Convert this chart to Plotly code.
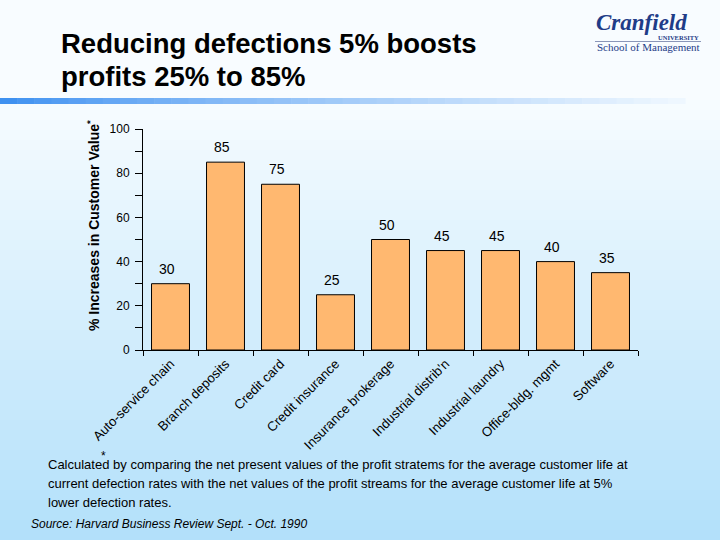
import plotly.graph_objects as go

categories = ["Auto-service chain", "Branch deposits", "Credit card", "Credit insurance",
              "Insurance brokerage", "Industrial distrib'n", "Industrial laundry",
              "Office-bldg. mgmt", "Software"]
values = [30, 85, 75, 25, 50, 45, 45, 40, 35]
y_ticks = [0, 20, 40, 60, 80, 100]

title_lines = ["Reducing defections 5% boosts", "profits 25% to 85%"]
y_title = "% Increases in Customer Value<sup>*</sup>"
footnote_lines = [
    "Calculated by comparing the net present values of the profit stratems for the average customer life at",
    "current defection rates with the net values of the profit streams for the average customer life at 5%",
    "lower defection rates.",
]
source_text = "Source: Harvard Business Review Sept. - Oct. 1990"

# figure geometry (pixels)
W, H = 720, 540
L, R, T, B = 143, 82, 129, 190
PW, PH = W - L - R, H - T - B


def px(x):
    return (x - L) / PW


def py(y):
    return (H - B - y) / PH


fig = go.Figure()
fig.add_trace(go.Bar(
    x=categories, y=values,
    marker=dict(color="#FFB870", line=dict(color="black", width=1)),
    hoverinfo="skip",
))

shapes = []
# background gradient
shapes.append(dict(type="rect", xref="paper", yref="paper", x0=px(0), x1=px(W),
                   y0=py(0), y1=py(100), fillcolor="rgb(248,252,255)", line_width=0, layer="below"))
top_c = (247, 252, 255)
bot_c = (178, 224, 250)
n = 44
y_start, y_end = 100, 540
for i in range(n):
    y0 = y_start + (y_end - y_start) * i / n
    y1 = y_start + (y_end - y_start) * (i + 1) / n + 0.6
    t = (i + 0.5) / n
    c = tuple(int(round(top_c[k] + (bot_c[k] - top_c[k]) * t)) for k in range(3))
    shapes.append(dict(type="rect", xref="paper", yref="paper", x0=px(0), x1=px(W),
                       y0=py(y1), y1=py(y0), fillcolor="rgb(%d,%d,%d)" % c,
                       line_width=0, layer="below"))
# blue separator line with fade
l_c = (58, 142, 240)
r_c = (240, 248, 255)
m = 40
x_s, x_e = 0, 685
for i in range(m):
    x0 = x_s + (x_e - x_s) * i / m
    x1 = x_s + (x_e - x_s) * (i + 1) / m + 0.6
    t = ((i + 0.5) / m) ** 0.8
    c = tuple(int(round(l_c[k] + (r_c[k] - l_c[k]) * t)) for k in range(3))
    shapes.append(dict(type="rect", xref="paper", yref="paper", x0=px(x0), x1=px(x1),
                       y0=py(104), y1=py(98), fillcolor="rgb(%d,%d,%d)" % c,
                       line_width=0, layer="below"))
# logo underline
shapes.append(dict(type="line", xref="paper", yref="paper", x0=px(595), x1=px(701),
                   y0=py(41.5), y1=py(41.5), line=dict(color="#8a96b8", width=1)))

annotations = []
for i, line in enumerate(title_lines):
    annotations.append(dict(text=line, x=px(59), y=py(43 + 33 * i), xref="paper", yref="paper",
                            xanchor="left", yanchor="middle", showarrow=False,
                            font=dict(family="Liberation Sans, Arial", size=27.5, color="black",
                                      weight="bold")))
# logo
annotations.append(dict(text="<i><b>Cranfield</b></i>", x=px(594), y=py(23), xref="paper", yref="paper",
                        xanchor="left", yanchor="middle", showarrow=False,
                        font=dict(family="Liberation Serif, Times New Roman", size=23, color="#1f3c88")))
annotations.append(dict(text="<b>UNIVERSITY</b>", x=px(701), y=py(37.5), xref="paper", yref="paper",
                        xanchor="right", yanchor="middle", showarrow=False,
                        font=dict(family="Liberation Serif, Times New Roman", size=6.5, color="#1f3c88")))
annotations.append(dict(text="School of Management", x=px(595), y=py(47), xref="paper", yref="paper",
                        xanchor="left", yanchor="middle", showarrow=False,
                        font=dict(family="Liberation Serif, Times New Roman", size=11, color="#1f3c88")))
# y title
annotations.append(dict(text=y_title, x=px(93), y=py(226), xref="paper", yref="paper",
                        xanchor="center", yanchor="middle", showarrow=False, textangle=-90,
                        font=dict(family="Liberation Sans, Arial", size=14, color="black", weight="bold")))
# bar labels
for c, v in zip(categories, values):
    annotations.append(dict(text=str(v), x=c, y=v, xref="x", yref="y", xanchor="center",
                            yanchor="bottom", showarrow=False, yshift=5, xshift=-4,
                            font=dict(family="Liberation Sans, Arial", size=14, color="black")))
# footnote
for i, line in enumerate(footnote_lines):
    annotations.append(dict(text=line, x=px(46), y=py(464 + 19 * i), xref="paper", yref="paper",
                            xanchor="left", yanchor="middle", showarrow=False,
                            font=dict(family="Liberation Sans, Arial", size=13, color="black")))
annotations.append(dict(text="*", x=px(103), y=py(456), xref="paper", yref="paper",
                        xanchor="center", yanchor="middle", showarrow=False,
                        font=dict(family="Liberation Sans, Arial", size=12, color="black")))
annotations.append(dict(text="<i>" + source_text + "</i>", x=px(29), y=py(524), xref="paper", yref="paper",
                        xanchor="left", yanchor="middle", showarrow=False,
                        font=dict(family="Liberation Sans, Arial", size=12, color="black")))

fig.update_layout(
    width=W, height=H, autosize=False,
    margin=dict(l=L, r=R, t=T, b=B, pad=0),
    paper_bgcolor="rgb(210,236,252)",
    plot_bgcolor="rgba(0,0,0,0)",
    showlegend=False,
    bargap=0.31,
    shapes=shapes,
    annotations=annotations,
    xaxis=dict(type="category", showline=True, linecolor="black", linewidth=1,
               ticks="outside", tickson="boundaries", ticklen=5, tickcolor="black",
               tickangle=-45, showgrid=False, zeroline=False,
               tickfont=dict(family="Liberation Sans, Arial", size=13.2, color="black")),
    yaxis=dict(range=[0, 100], tickvals=y_ticks, showline=True, linecolor="black", linewidth=1,
               ticks="outside", ticklen=7, tickcolor="black", showgrid=False, zeroline=False,
               ticklabelstandoff=3,
               minor=dict(ticks="outside", tickvals=[10, 30, 50, 70, 90], ticklen=7, tickcolor="black"),
               tickfont=dict(family="Liberation Sans, Arial", size=12, color="black")),
)

fig.write_html("out.html", config={"displayModeBar": False},
               post_script="document.body.style.margin='0px';")
